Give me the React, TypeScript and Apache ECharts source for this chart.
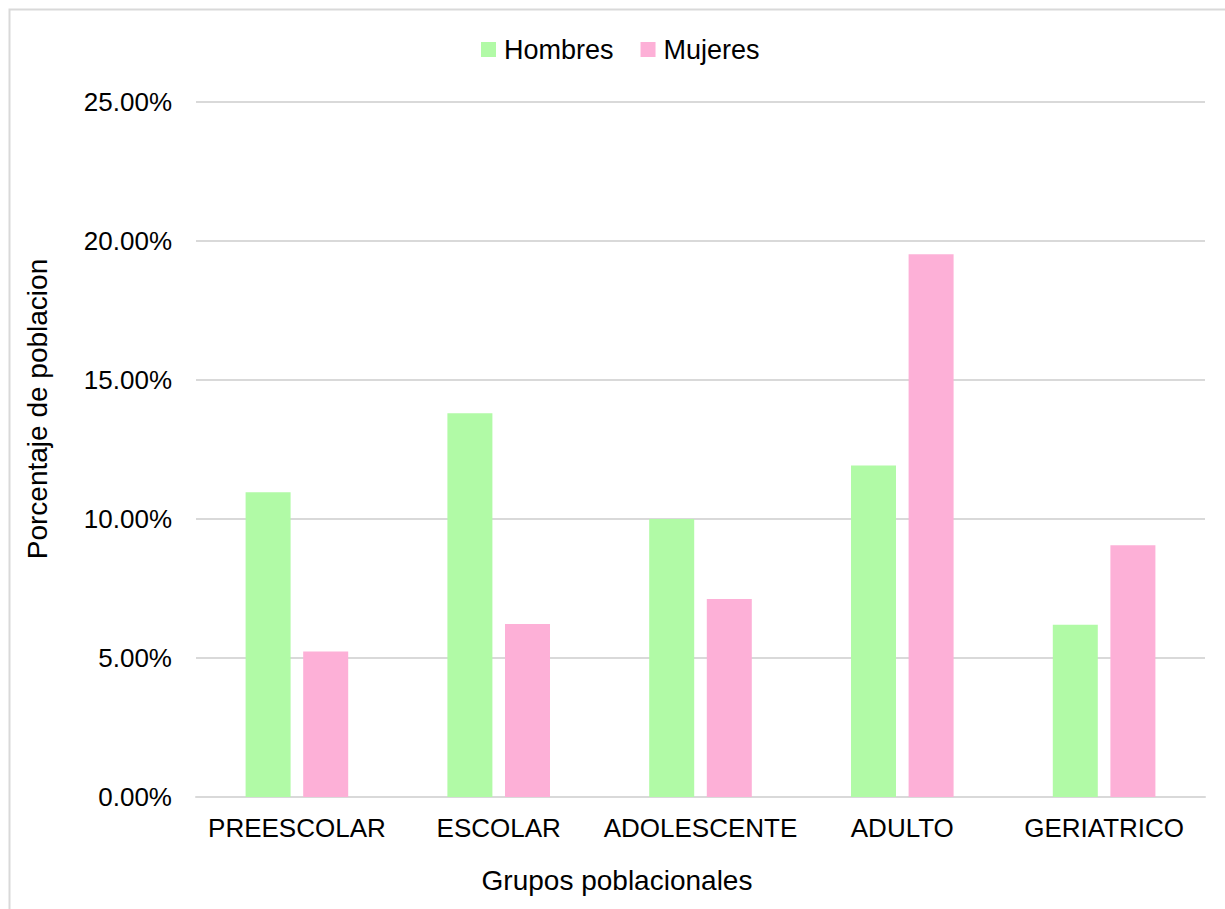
import React, { useEffect, useRef } from "react";
import * as echarts from "echarts";

const categories = ["PREESCOLAR", "ESCOLAR", "ADOLESCENTE", "ADULTO", "GERIATRICO"];
const hombres = [10.96, 13.8, 10.0, 11.92, 6.2];
const mujeres = [5.23, 6.22, 7.12, 19.52, 9.06];
const seriesNames = ["Hombres", "Mujeres"];
const xAxisTitle = "Grupos poblacionales";
const yAxisTitle = "Porcentaje de poblacion";

const FONT = "'Liberation Sans', Arial, sans-serif";
const GREEN = "#B1FAA6";
const PINK = "#FDB0D7";
const GRID_GRAY = "#D9D9D9";

export default function App() {
  const ref = useRef<HTMLDivElement>(null);

  useEffect(() => {
    if (!ref.current) return;
    const chart = echarts.init(ref.current, undefined, { renderer: "svg" });
    chart.setOption({
      animation: false,
      backgroundColor: "#ffffff",
      textStyle: { fontFamily: FONT },
      legend: {
        data: seriesNames,
        left: 481,
        top: 36,
        padding: 0,
        itemWidth: 15,
        itemHeight: 15,
        itemGap: 27,
        icon: "rect",
        textStyle: { fontSize: 27, color: "#000", fontFamily: FONT, padding: [0, 0, 0, 3] },
      },
      grid: { left: 196, right: 20, top: 102, bottom: 112, containLabel: false },
      xAxis: {
        type: "category",
        data: categories,
        axisLine: { lineStyle: { color: GRID_GRAY, width: 2 } },
        axisTick: { show: false },
        axisLabel: { fontSize: 26, color: "#000", fontFamily: FONT, margin: 18, interval: 0 },
      },
      yAxis: {
        type: "value",
        min: 0,
        max: 25,
        interval: 5,
        axisLine: { show: false },
        axisTick: { show: false },
        splitLine: { lineStyle: { color: GRID_GRAY, width: 2 } },
        axisLabel: {
          fontSize: 26,
          color: "#000",
          fontFamily: FONT,
          margin: 24,
          formatter: (v: number) => v.toFixed(2) + "%",
        },
      },
      series: [
        {
          name: seriesNames[0],
          type: "bar",
          data: hombres,
          barWidth: 45,
          barGap: "28%",
          itemStyle: { color: GREEN },
        },
        {
          name: seriesNames[1],
          type: "bar",
          data: mujeres,
          barWidth: 45,
          itemStyle: { color: PINK },
        },
      ],
      graphic: [
        {
          type: "rect",
          shape: { x: 9.5, y: 9.5, width: 1400, height: 1100 },
          style: { fill: "none", stroke: GRID_GRAY, lineWidth: 2 },
          silent: true,
        },
        {
          type: "text",
          x: 617,
          y: 880,
          style: {
            text: xAxisTitle,
            fontSize: 28,
            fontFamily: FONT,
            fill: "#000",
            align: "center",
            verticalAlign: "middle",
          },
        },
        {
          type: "text",
          x: 37,
          y: 409,
          rotation: Math.PI / 2,
          style: {
            text: yAxisTitle,
            fontSize: 28,
            fontFamily: FONT,
            fill: "#000",
            align: "center",
            verticalAlign: "middle",
          },
        },
      ],
    });
    return () => chart.dispose();
  }, []);

  return (
    <div
      ref={ref}
      style={{ position: "absolute", left: 0, top: 0, width: 1225, height: 909 }}
    />
  );
}
